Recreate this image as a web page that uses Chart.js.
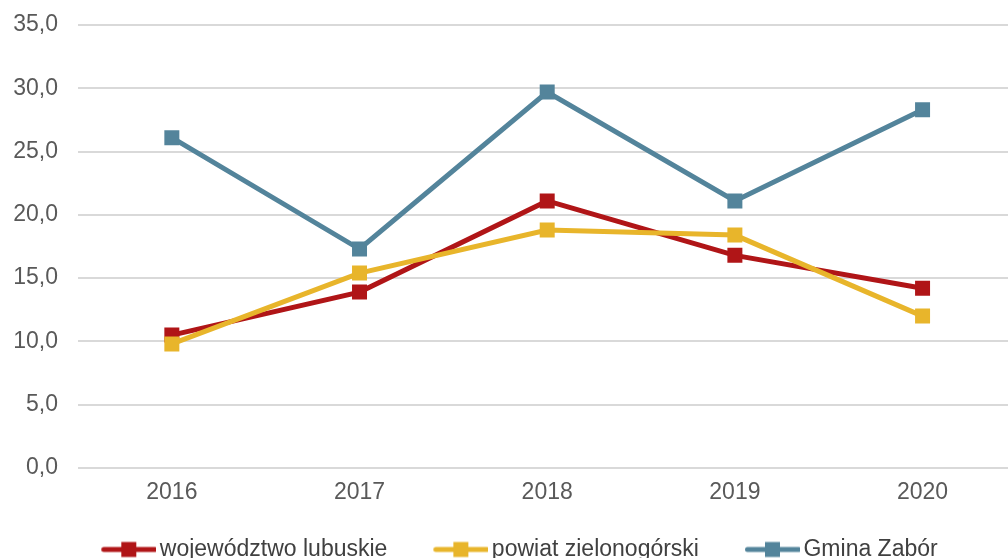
<!DOCTYPE html>
<html>
<head>
<meta charset="utf-8">
<script src="https://cdn.jsdelivr.net/npm/chart.js@4"></script>
<style>
  html, body { margin: 0; padding: 0; background: #fff; overflow: hidden; }
  #wrap { width: 1008px; height: 558px; overflow: hidden; position: relative; }
  #chart { position: absolute; left: 0; top: 0; }
</style>
</head>
<body>
<div id="wrap"><canvas id="chart" width="1027" height="572"></canvas></div>
<script>
// Dane z wykresu
const years = ['2016', '2017', '2018', '2019', '2020'];
const wojewodztwo = [10.5, 13.9, 21.1, 16.8, 14.2];
const powiat = [9.8, 15.4, 18.8, 18.4, 12.0];
const gmina = [26.1, 17.3, 29.7, 21.1, 28.3];
const seriesNames = ['województwo lubuskie', 'powiat zielonogórski', 'Gmina Zabór'];
const seriesColors = ['#B01517', '#E8B52B', '#53849B'];

const FONT = 'Liberation Sans, Arial, sans-serif';

// ikona legendy: linia z kwadratem
function legendIcon(color) {
  const c = document.createElement('canvas');
  c.width = 75;
  c.height = 22;
  const g = c.getContext('2d');
  g.strokeStyle = color;
  g.lineWidth = 5;
  g.lineCap = 'round';
  g.beginPath();
  g.moveTo(22.5, 11);
  g.lineTo(73.5, 11);
  g.stroke();
  g.fillStyle = color;
  g.fillRect(40, 3.5, 15, 15);
  return c;
}

function makeDataset(i, values, order) {
  return {
    label: seriesNames[i],
    data: values,
    borderColor: seriesColors[i],
    backgroundColor: seriesColors[i],
    borderWidth: 5,
    pointStyle: 'rect',
    pointRadius: 10.6,
    pointBorderWidth: 0,
    pointBackgroundColor: seriesColors[i],
    tension: 0,
    order: order
  };
}

const ctx = document.getElementById('chart');
new Chart(ctx, {
  type: 'line',
  data: {
    labels: years,
    datasets: [
      makeDataset(0, wojewodztwo, 2),
      makeDataset(1, powiat, 1),
      makeDataset(2, gmina, 0)
    ]
  },
  options: {
    responsive: false,
    animation: false,
    layout: {
      padding: { left: 0, right: 0, top: 25, bottom: 1 }
    },
    plugins: {
      tooltip: { enabled: false },
      legend: {
        position: 'bottom',
        labels: {
          usePointStyle: true,
          pointStyleWidth: 59,
          padding: 34,
          color: '#404040',
          font: { family: FONT, size: 23 },
          generateLabels: function(chart) {
            return chart.data.datasets.map((ds, i) => ({
              text: ds.label,
              pointStyle: legendIcon(ds.borderColor),
              fillStyle: ds.borderColor,
              strokeStyle: ds.borderColor,
              lineWidth: 0,
              fontColor: '#404040',
              hidden: false,
              datasetIndex: i
            }));
          }
        }
      }
    },
    scales: {
      x: {
        offset: true,
        grid: { display: false },
        border: { display: false },
        afterFit: function(scale) { scale.height = 36; },
        ticks: {
          color: '#595959',
          padding: 3,
          font: { family: FONT, size: 23 }
        }
      },
      y: {
        min: 0,
        max: 35,
        afterFit: function(scale) {
          scale.width = 78;
          scale.paddingTop = 0;
          scale.paddingBottom = 0;
        },
        grid: { color: '#d9d9d9', lineWidth: 2, drawTicks: false },
        border: { display: false },
        ticks: {
          stepSize: 5,
          color: '#595959',
          padding: 20,
          font: { family: FONT, size: 23 },
          callback: function(value) {
            return value.toFixed(1).replace('.', ',');
          }
        }
      }
    }
  }
});
</script>
</body>
</html>
